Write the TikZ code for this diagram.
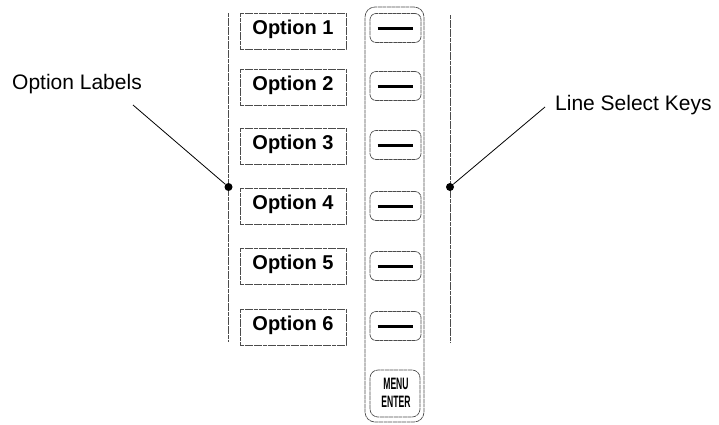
\documentclass[tikz,border=0pt]{standalone}
\usepackage{fontspec}
\setmainfont{Liberation Sans}
\begin{document}
\begin{tikzpicture}[x=1pt,y=-1pt,
  scanline/.style={draw=black!70,line width=0.7pt,dash pattern=on 4pt off 0.6pt},
  optbox/.style={scanline,minimum width=106pt,minimum height=36pt,inner sep=0pt,
    font=\fontsize{20}{20}\selectfont\bfseries,text height=0.72em,text depth=0pt},
  keybox/.style={scanline,rounded corners=6pt,minimum width=51pt,minimum height=29pt,inner sep=0pt},
  keydash/.style={line width=3pt,black},
  keytext/.style={font=\fontsize{16.5}{16.5}\selectfont\bfseries,inner sep=0pt,xscale=0.52,text height=0.72em,text depth=0pt},
  callout/.style={font=\fontsize{21}{21}\selectfont,inner sep=0pt,text height=0.72em,text depth=0pt},
  leader/.style={line width=0.8pt,black},
  dotmark/.style={circle,fill=black,inner sep=0pt,minimum size=8pt}]
\useasboundingbox (0,0) rectangle (719,424);

% vertical guide lines
\draw[scanline] (228,13) -- (228,342);
\draw[scanline] (450,15) -- (450,342);

% key panel
\node[scanline,rounded corners=10pt,minimum width=59pt,minimum height=415pt,inner sep=0pt] (panel) at (394.5,214.5) {};

% option labels
\node[optbox] (o1) at (293,31) {Option 1};
\node[optbox] (o2) at (293,87) {Option 2};
\node[optbox] (o3) at (293,146) {Option 3};
\node[optbox] (o4) at (293,206) {Option 4};
\node[optbox] (o5) at (293,266) {Option 5};
\node[optbox] (o6) at (293,327) {Option 6};

% line select keys
\foreach \i/\y in {1/28,2/86,3/145,4/206,5/266,6/326}{
  \node[keybox] (k\i) at (395.5,\y) {};
  \draw[keydash] ([xshift=8pt]k\i.west) -- ([xshift=-8pt]k\i.east);
}

% menu / enter key
\node[scanline,rounded corners=8pt,minimum width=50pt,minimum height=47pt,inner sep=0pt] (menu) at (395,393.5) {};
\node[keytext] (menut) at (396,386) {MENU};
\node[keytext] (entert) at (396,404) {ENTER};

% callouts
\node[callout,anchor=west] (lblL) at (12,86) {Option Labels};
\node[callout,anchor=west] (lblR) at (555,107) {Line Select Keys};
\coordinate (lL) at (133,105);
\coordinate (lR) at (545,107);
\node[dotmark] (dL) at (228.5,187) {};
\node[dotmark] (dR) at (450,187) {};
\draw[leader] (lL) -- (dL);
\draw[leader] (lR) -- (dR);
\end{tikzpicture}
\end{document}
